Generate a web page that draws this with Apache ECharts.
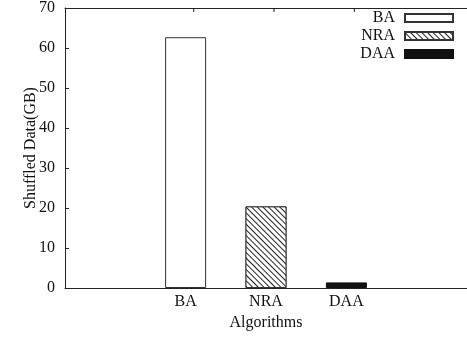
<!DOCTYPE html>
<html>
<head>
<meta charset="utf-8">
<script src="https://cdn.jsdelivr.net/npm/echarts@6/dist/echarts.min.js"></script>
<style>html,body{margin:0;padding:0;background:#fff;}#c{width:467px;height:338px;}</style>
</head>
<body>
<div id="c"></div>
<script>
var categories = ['BA', 'NRA', 'DAA'];
var values = [62.7, 20.4, 1.4];
var yTicks = [0, 10, 20, 30, 40, 50, 60, 70];
var seriesNames = ['BA', 'NRA', 'DAA'];
var topTicks = [0.1, 1.1, 2.1];

var FONT = '"Liberation Serif", "DejaVu Serif", serif';
var AX = '#222';
var chart = echarts.init(document.getElementById('c'), null, {renderer: 'canvas'});

var styles = [
  {color: '#ffffff', borderColor: '#333', borderWidth: 1},
  {color: '#ffffff', borderColor: '#333', borderWidth: 1,
   decal: {symbol: 'rect', color: '#222', backgroundColor: '#ffffff', dashArrayX: [1, 0], dashArrayY: [1, 3], rotation: Math.PI / 4, symbolSize: 1}},
  {color: '#111111', borderColor: '#111', borderWidth: 1}
];

var series = seriesNames.map(function (n, i) {
  return {
    name: n,
    type: 'bar',
    barWidth: 41,
    barGap: '-100%',
    itemStyle: styles[i],
    data: [[i, values[i]]]
  };
});

// mirrored x tick marks on the top border
series.push({
  name: 'topTicks',
  type: 'scatter',
  xAxisIndex: 1,
  silent: true,
  clip: false,
  symbol: 'rect',
  symbolSize: [1.2, 4],
  symbolOffset: [0, 2],
  itemStyle: {color: '#111'},
  z: 10,
  data: topTicks.map(function (v) { return [v, yTicks[yTicks.length - 1]]; })
});

chart.setOption({
  animation: false,
  grid: {left: 65, top: 6, bottom: 50, width: 410},
  legend: {
    right: 13, top: 10, orient: 'vertical', align: 'right', padding: 0,
    itemWidth: 48, itemHeight: 8, itemGap: 2,
    icon: 'rect',
    textStyle: {fontFamily: FONT, fontSize: 16, color: '#111', lineHeight: 16, padding: [0, 5, 0, 0]},
    data: seriesNames
  },
  xAxis: [{
    type: 'value', min: -1.5, max: 3.5, position: 'bottom',
    name: 'Algorithms', nameLocation: 'middle', nameGap: 25,
    nameTextStyle: {fontFamily: FONT, fontSize: 16, color: '#111'},
    axisLine: {show: true, onZero: false, lineStyle: {color: AX, width: 1}},
    axisTick: {show: false},
    splitLine: {show: false},
    axisLabel: {customValues: [0, 1, 2], formatter: function (v) { return categories[Math.round(v)]; },
      fontFamily: FONT, fontSize: 16, color: '#111', margin: 6}
  }, {
    type: 'value', min: -1.5, max: 3.5, position: 'top',
    axisLine: {show: true, onZero: false, lineStyle: {color: AX, width: 1}},
    axisTick: {show: false},
    axisLabel: {show: false},
    splitLine: {show: false}
  }],
  yAxis: {
    type: 'value', min: 0, max: 70, interval: 10,
    name: 'Shuffled Data(GB)', nameLocation: 'middle', nameGap: 26, nameMoveOverlap: false,
    nameTextStyle: {fontFamily: FONT, fontSize: 16, color: '#111'},
    axisLine: {show: true, onZero: false, lineStyle: {color: AX, width: 1}},
    axisTick: {show: true, inside: true, length: 4, lineStyle: {color: AX}},
    splitLine: {show: false},
    axisLabel: {fontFamily: FONT, fontSize: 16, color: '#111', margin: 10,
      formatter: function (v) { return yTicks.indexOf(v) >= 0 ? String(v) : ''; }}
  },
  series: series
});
</script>
</body>
</html>
